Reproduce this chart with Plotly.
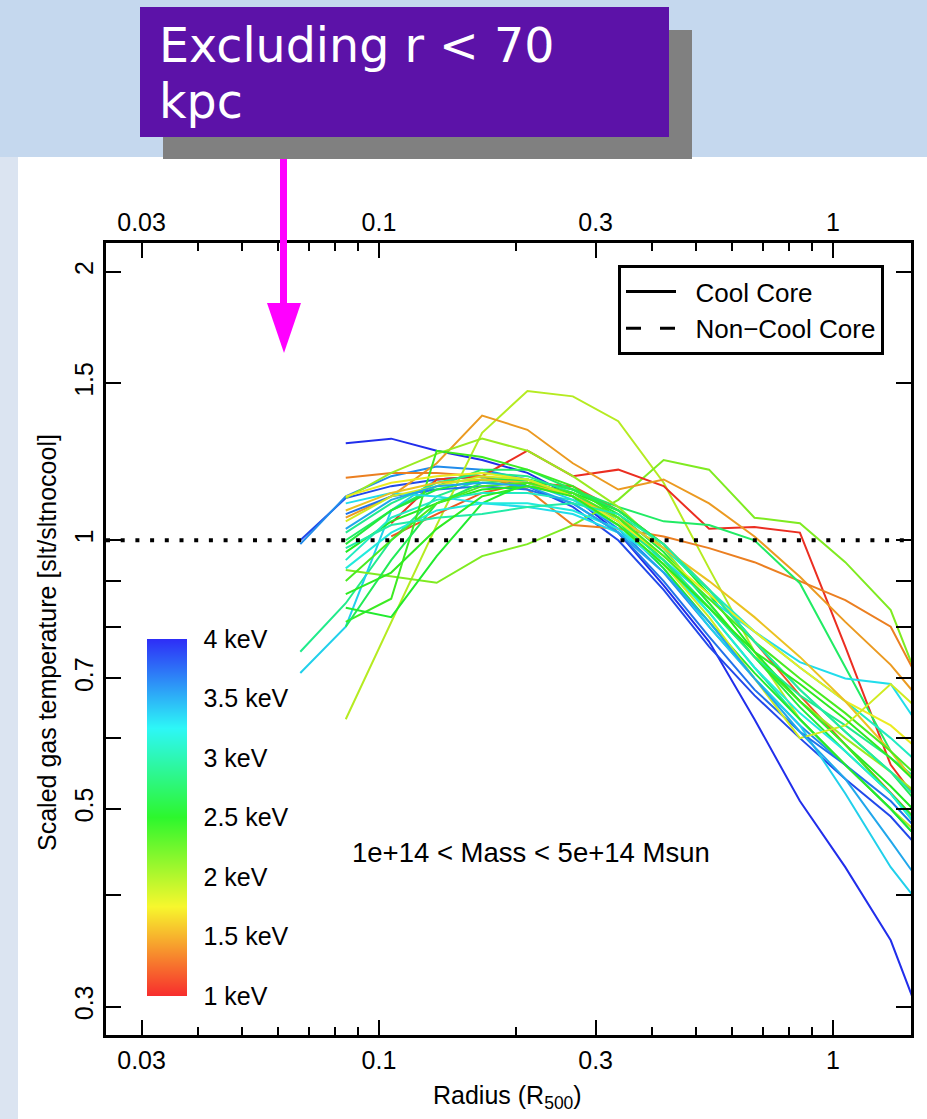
import colorsys
import math
import plotly.graph_objects as go

# ---------------- data ----------------
radius_bins = [0.0671, 0.0845, 0.1064, 0.1340, 0.1687, 0.2123, 0.2673, 0.3365,
               0.4236, 0.5333, 0.6714, 0.8453, 1.0641, 1.3397, 1.6866]

cluster_kT = [3.95, 3.85, 3.6, 2.9, 3.35, 1.95, 2.15, 1.05, 1.2, 1.45,
              1.35, 2.75, 3.7, 2.05, 2.5, 2.6, 3.1, 2.4, 2.7, 2.55,
              3.3, 3.2, 2.9, 1.75, 1.6, 2.35, 1.85, 3.5, 3.0, 2.45]

N = None
cluster_profiles = [
    [N, 1.285, 1.30, 1.26, 1.23, 1.19, 1.12, 1.02, 0.89, 0.77, 0.63, 0.51, 0.43, 0.356, 0.262],
    [1.00, 1.115, 1.15, 1.17, 1.18, 1.15, 1.09, 1.00, 0.88, 0.76, 0.67, 0.60, 0.54, 0.49, 0.43],
    [0.99, 1.12, 1.18, 1.21, 1.20, 1.17, 1.12, 1.03, 0.92, 0.80, 0.70, 0.62, 0.56, 0.50, 0.44],
    [0.75, 0.85, 1.00, 1.12, 1.17, 1.16, 1.12, 1.05, 0.95, 0.83, 0.72, 0.63, 0.56, 0.50, 0.44],
    [0.71, 0.80, 1.08, 1.17, 1.18, 1.16, 1.11, 1.04, 0.93, 0.80, 0.70, 0.62, 0.52, 0.43, 0.37],
    [N, 0.63, 0.81, 1.04, 1.32, 1.47, 1.45, 1.36, 1.16, 0.93, 0.75, 0.63, 0.56, 0.50, 0.45],
    [N, 0.926, 0.91, 0.896, 0.96, 0.99, 1.04, 1.11, 1.23, 1.20, 1.06, 1.045, 0.945, 0.835, 0.62],
    [N, N, 1.045, 1.17, 1.18, 1.26, 1.18, 1.20, 1.15, 1.03, 1.035, 1.02, 0.76, 0.56, 0.48],
    [N, N, 1.01, 1.07, 1.13, 1.16, 1.15, 1.08, 0.99, 0.88, 0.77, 0.67, 0.59, 0.52, 0.46],
    [N, 1.06, 1.12, 1.22, 1.38, 1.33, 1.22, 1.14, 1.17, 1.10, 1.01, 0.91, 0.81, 0.725, 0.63],
    [N, 1.175, 1.19, 1.19, 1.18, 1.14, 1.04, 1.03, 1.01, 0.98, 0.945, 0.90, 0.857, 0.80, 0.64],
    [N, 1.00, 1.08, 1.15, 1.20, 1.20, 1.14, 1.09, 1.05, 1.04, 1.00, 0.895, 0.72, 0.58, 0.50],
    [N, 1.07, 1.12, 1.14, 1.15, 1.14, 1.10, 1.02, 0.90, 0.78, 0.68, 0.61, 0.56, 0.51, 0.45],
    [N, 1.115, 1.19, 1.25, 1.30, 1.26, 1.18, 1.09, 0.98, 0.85, 0.74, 0.66, 0.60, 0.55, 0.50],
    [N, 0.97, 1.05, 1.10, 1.14, 1.15, 1.13, 1.08, 0.99, 0.87, 0.75, 0.66, 0.59, 0.53, 0.47],
    [N, 0.99, 1.08, 1.14, 1.17, 1.17, 1.14, 1.07, 0.97, 0.85, 0.74, 0.65, 0.58, 0.52, 0.46],
    [N, 0.95, 1.06, 1.11, 1.13, 1.13, 1.11, 1.06, 0.98, 0.88, 0.79, 0.72, 0.66, 0.60, 0.54],
    [N, 0.81, 0.86, 1.26, 1.24, 1.20, 1.15, 1.06, 0.95, 0.84, 0.74, 0.66, 0.59, 0.52, 0.45],
    [N, 0.80, 0.95, 1.10, 1.16, 1.17, 1.14, 1.08, 0.99, 0.88, 0.77, 0.68, 0.61, 0.55, 0.48],
    [N, 0.84, 0.82, 0.96, 1.10, 1.16, 1.13, 1.05, 0.93, 0.81, 0.71, 0.63, 0.56, 0.50, 0.44],
    [N, 1.10, 1.13, 1.12, 1.10, 1.09, 1.07, 1.02, 0.95, 0.86, 0.79, 0.73, 0.70, 0.69, 0.58],
    [N, 0.93, 1.02, 1.08, 1.10, 1.10, 1.08, 1.03, 0.94, 0.83, 0.72, 0.64, 0.58, 0.52, 0.45],
    [N, 1.02, 1.10, 1.16, 1.19, 1.18, 1.13, 1.05, 0.95, 0.84, 0.74, 0.67, 0.62, 0.57, 0.52],
    [N, 1.12, 1.16, 1.18, 1.19, 1.17, 1.12, 1.05, 0.96, 0.87, 0.79, 0.72, 0.66, 0.62, 0.56],
    [N, 1.08, 1.13, 1.16, 1.17, 1.16, 1.12, 1.06, 0.98, 0.90, 0.82, 0.74, 0.66, 0.58, 0.50],
    [N, 0.90, 1.00, 1.10, 1.15, 1.16, 1.13, 1.06, 0.96, 0.86, 0.77, 0.70, 0.64, 0.58, 0.52],
    [N, 1.05, 1.12, 1.15, 1.18, 1.17, 1.12, 1.04, 0.94, 0.82, 0.70, 0.60, 0.62, 0.69, 0.62],
    [N, 1.03, 1.11, 1.15, 1.16, 1.15, 1.10, 1.02, 0.92, 0.81, 0.70, 0.61, 0.54, 0.46, 0.39],
    [N, 0.98, 1.04, 1.06, 1.07, 1.09, 1.10, 1.07, 0.99, 0.88, 0.77, 0.68, 0.61, 0.55, 0.49],
    [N, 0.87, 0.92, 1.03, 1.12, 1.15, 1.12, 1.04, 0.94, 0.84, 0.75, 0.69, 0.63, 0.57, 0.51],
]

x_major = [0.03, 0.1, 0.3, 1]
x_major_text = ["0.03", "0.1", "0.3", "1"]
x_minor = [0.04, 0.05, 0.06, 0.07, 0.08, 0.09, 0.2, 0.4, 0.5, 0.6, 0.7, 0.8, 0.9]
y_ticks = [0.3, 0.4, 0.5, 0.6, 0.7, 0.8, 0.9, 1, 1.5, 2]
y_tick_text = ["0.3", "", "0.5", "", "0.7", "", "", "1", "1.5", "2"]
kT_ticks = [1, 1.5, 2, 2.5, 3, 3.5, 4]
kT_tick_text = ["1 keV", "1.5 keV", "2 keV", "2.5 keV", "3 keV", "3.5 keV", "4 keV"]
kT_min, kT_max = 1.0, 4.0
x_range = [0.02505, 1.485]
y_range = [0.2788, 2.156]

W, H = 927, 1119


def px(x):
    return x / W


def py(y):
    return 1 - y / H


def rainbow(frac, s, v):
    r, g, b = colorsys.hsv_to_rgb(frac * 2 / 3, s, v)
    return "rgb(%d,%d,%d)" % (round(r * 255), round(g * 255), round(b * 255))


def kT_color(t):
    return rainbow((t - kT_min) / (kT_max - kT_min), 0.86, 0.92)


fig = go.Figure()

for t, prof in zip(cluster_kT, cluster_profiles):
    xs = [r for r, v in zip(radius_bins, prof) if v is not None]
    ys = [v for v in prof if v is not None]
    fig.add_trace(go.Scatter(x=xs, y=ys, mode="lines",
                             line=dict(color=kT_color(t), width=2),
                             showlegend=False, hoverinfo="skip"))

# reference line at 1
fig.add_trace(go.Scatter(x=x_range, y=[1, 1], mode="lines", xaxis="x2",
                         line=dict(color="black", width=4, dash="4px,10.7px"),
                         showlegend=False, hoverinfo="skip"))

font_fam = "Liberation Sans, Arial, Helvetica, sans-serif"
gap = "\u00a0\u00a0"

# legend entries
fig.add_trace(go.Scatter(x=[None], y=[None], mode="lines", name=gap + "Cool Core",
                         line=dict(color="black", width=3)))
fig.add_trace(go.Scatter(x=[None], y=[None], mode="lines", name=gap + "Non\u2212Cool Core",
                         line=dict(color="black", width=3, dash="15px,19px")))

# colour bar
cscale = [[i / 12, rainbow(i / 12, 0.82, 0.97)] for i in range(13)]
fig.add_trace(go.Scatter(
    x=[None], y=[None], mode="markers", showlegend=False, hoverinfo="skip",
    marker=dict(color=[2.5], cmin=kT_min, cmax=kT_max, colorscale=cscale,
                showscale=True,
                colorbar=dict(x=px(147), xanchor="left", y=py(817.5), yanchor="middle",
                              len=357, lenmode="pixels", thickness=40,
                              thicknessmode="pixels", xpad=0, ypad=0,
                              outlinewidth=0, tickvals=kT_ticks, ticktext=kT_tick_text,
                              ticks="outside", ticklen=12, tickcolor="rgba(0,0,0,0)",
                              tickfont=dict(size=25, color="black", family=font_fam)))))

xdom = [px(106), px(911)]
ydom = [py(1035), py(242.7)]

axis_common = dict(showgrid=False, zeroline=False, color="black")

fig.update_layout(
    width=W, height=H, autosize=False,
    margin=dict(l=0, r=0, t=0, b=0),
    paper_bgcolor="#c5d8ee", plot_bgcolor="rgba(0,0,0,0)",
    font=dict(family=font_fam, color="black", size=25),
    xaxis=dict(type="log", range=[math.log10(x_range[0]), math.log10(x_range[1])],
               domain=xdom, anchor="y", showline=True, linewidth=3, linecolor="black",
               mirror="ticks", ticks="inside", ticklen=15, tickwidth=1.5,
               tickvals=x_major, ticktext=x_major_text,
               tickfont=dict(size=25), ticklabelstandoff=1,
               minor=dict(tickvals=x_minor, ticks="inside", ticklen=8, tickwidth=1.5,
                          tickcolor="black", showgrid=False),
               automargin=False, **axis_common),
    xaxis2=dict(type="log", range=[math.log10(x_range[0]), math.log10(x_range[1])],
                domain=xdom, anchor="y", overlaying="x", side="top", showline=False,
                ticks="", tickvals=x_major, ticktext=x_major_text,
                tickfont=dict(size=25), ticklabelstandoff=6,
                automargin=False, **axis_common),
    yaxis=dict(type="log", range=[math.log10(y_range[0]), math.log10(y_range[1])],
               domain=ydom, anchor="x", showline=True, linewidth=3, linecolor="black",
               mirror="ticks", ticks="inside", ticklen=15, tickwidth=1.5,
               tickvals=y_ticks, ticktext=y_tick_text, tickangle=-90,
               tickfont=dict(size=25), ticklabelstandoff=0,
               automargin=False, **axis_common),
    legend=dict(x=px(618), y=py(265), xanchor="left", yanchor="top",
                bgcolor="white", bordercolor="black", borderwidth=3,
                font=dict(size=26, family=font_fam), itemwidth=50),
    showlegend=True,
)

shapes = [
    # white panel
    dict(type="rect", xref="paper", yref="paper", x0=px(18), x1=1, y0=0, y1=py(157),
         fillcolor="white", line=dict(width=0), layer="below"),
    # lighter left strip
    dict(type="rect", xref="paper", yref="paper", x0=0, x1=px(18), y0=0, y1=py(157),
         fillcolor="#dbe4f1", line=dict(width=0), layer="below"),
    # shadow
    dict(type="rect", xref="paper", yref="paper", x0=px(163), x1=px(692), y0=py(159), y1=py(30),
         fillcolor="#808080", line=dict(width=0), layer="above"),
    # purple box
    dict(type="rect", xref="paper", yref="paper", x0=px(140), x1=px(669), y0=py(137), y1=py(7),
         fillcolor="#5c12a8", line=dict(width=0), layer="above"),
    # arrow shaft
    dict(type="rect", xref="paper", yref="paper", x0=px(280), x1=px(287), y0=py(306), y1=py(159),
         fillcolor="#ff00ff", line=dict(width=0), layer="above"),
    # arrow head
    dict(type="path", xref="paper", yref="paper",
         path="M %f,%f L %f,%f L %f,%f Z" % (px(267), py(303), px(301), py(303), px(284), py(353)),
         fillcolor="#ff00ff", line=dict(width=0), layer="above"),
]
fig.update_layout(shapes=shapes)

annotations = [
    dict(text="Excluding r &lt; 70", x=px(157), y=py(46), xanchor="left", yanchor="middle",
         font=dict(size=47.5, color="white", family="DejaVu Sans, sans-serif")),
    dict(text="kpc", x=px(157), y=py(101), xanchor="left", yanchor="middle",
         font=dict(size=47.5, color="white", family="DejaVu Sans, sans-serif")),
    dict(text="1e+14 &lt; Mass &lt; 5e+14 Msun", x=px(531), y=py(852),
         xanchor="center", yanchor="middle", font=dict(size=27.5)),
    dict(text="Radius (R<sub>500</sub>)", x=px(508), y=py(1097),
         xanchor="center", yanchor="middle", font=dict(size=25)),
    dict(text="Scaled gas temperature [slt/sltnocool]", x=px(47), y=py(643),
         xanchor="center", yanchor="middle", textangle=-90, font=dict(size=25)),
]
for a in annotations:
    a.update(xref="paper", yref="paper", showarrow=False)
fig.update_layout(annotations=annotations)

fig.write_html(
    "out.html",
    config={"displayModeBar": False},
    post_script="document.body.style.margin='0';document.body.style.padding='0';"
                "document.body.style.overflow='hidden';",
)
